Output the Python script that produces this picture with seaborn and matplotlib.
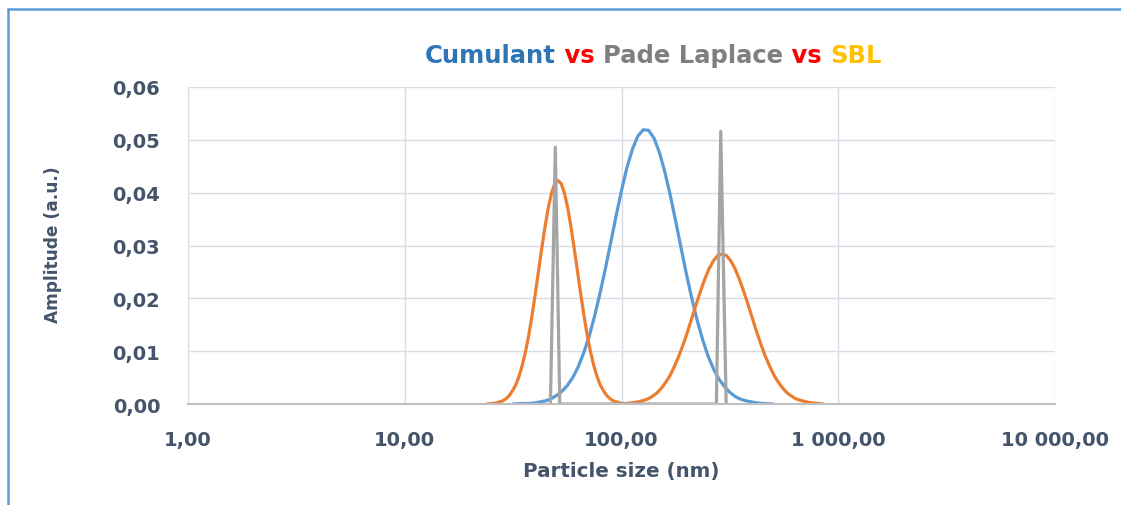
import numpy as np
import pandas as pd
import matplotlib.pyplot as plt
import seaborn as sns
from matplotlib.lines import Line2D
from matplotlib.ticker import FixedLocator, NullLocator

# Values (size in nm, amplitude in a.u.)
cumulant_size = [31.62, 35.48, 37.58, 39.81, 42.17, 44.67, 47.32, 50.12, 53.09, 56.23, 59.57,
                 63.10, 66.83, 70.79, 74.99, 79.43, 84.14, 89.13, 94.41, 100.0, 105.9, 112.2,
                 118.9, 125.9, 133.4, 141.3, 149.6, 158.5, 167.9, 177.8, 188.4, 199.5, 211.3,
                 223.9, 237.1, 251.2, 266.1, 281.8, 298.5, 316.2, 335.0, 354.8, 375.8, 398.1,
                 421.7, 446.7, 501.2]
cumulant_amp = [0.0, 0.0001, 0.0001, 0.0002, 0.0004, 0.0006, 0.0010, 0.0016, 0.0024, 0.0035,
                0.0050, 0.0070, 0.0096, 0.0127, 0.0165, 0.0208, 0.0255, 0.0305, 0.0356, 0.0404,
                0.0447, 0.0482, 0.0507, 0.0519, 0.0518, 0.0503, 0.0476, 0.0439, 0.0395, 0.0346,
                0.0295, 0.0245, 0.0199, 0.0157, 0.0121, 0.0090, 0.0066, 0.0047, 0.0033, 0.0022,
                0.0014, 0.0009, 0.0006, 0.0004, 0.0002, 0.0001, 0.0]

# SBL: small-particle peak
sbl_small_size = [24.0, 25.53, 26.42, 27.35, 28.31, 29.31, 30.34, 31.41, 32.51, 33.65, 34.83,
                  36.06, 37.33, 38.64, 40.00, 41.40, 42.85, 44.36, 45.92, 47.53, 49.20, 50.93,
                  52.72, 54.58, 56.49, 58.48, 60.53, 62.66, 64.86, 67.14, 69.50, 71.94, 74.47,
                  77.09, 79.80, 82.60, 85.51, 88.51, 91.62, 94.84, 98.17, 101.6]
sbl_small_amp = [0.0, 0.0001, 0.0002, 0.0004, 0.0006, 0.0010, 0.0016, 0.0025, 0.0036, 0.0052,
                 0.0073, 0.0099, 0.0130, 0.0167, 0.0208, 0.0251, 0.0294, 0.0335, 0.0371, 0.0399,
                 0.0417, 0.0423, 0.0417, 0.0399, 0.0371, 0.0335, 0.0294, 0.0251, 0.0208, 0.0167,
                 0.0130, 0.0099, 0.0073, 0.0052, 0.0036, 0.0025, 0.0016, 0.0010, 0.0006, 0.0004,
                 0.0002, 0.0001]
# SBL: large-particle peak
sbl_large_size = [105.7, 110.7, 115.9, 121.3, 127.1, 133.0, 139.3, 145.9, 152.8, 160.0, 167.5,
                  175.4, 183.7, 192.3, 201.4, 210.9, 220.8, 231.2, 242.1, 253.5, 265.5, 278.0,
                  291.1, 304.8, 319.2, 334.2, 349.9, 366.4, 383.7, 401.8, 420.7, 440.6, 461.3,
                  483.1, 505.8, 529.7, 554.6, 580.8, 608.1, 636.8, 666.8, 698.2, 731.1, 765.6,
                  801.7, 850.0]
sbl_large_amp = [0.0001, 0.0002, 0.0003, 0.0005, 0.0007, 0.0010, 0.0015, 0.0021, 0.0030, 0.0041,
                 0.0054, 0.0071, 0.0090, 0.0112, 0.0136, 0.0162, 0.0188, 0.0213, 0.0236, 0.0256,
                 0.0271, 0.0281, 0.0284, 0.0281, 0.0271, 0.0256, 0.0236, 0.0213, 0.0188, 0.0162,
                 0.0136, 0.0112, 0.0090, 0.0071, 0.0054, 0.0041, 0.0030, 0.0021, 0.0015, 0.0010,
                 0.0007, 0.0005, 0.0003, 0.0002, 0.0001, 0.0]

pade_size = [47.0, 49.5, 51.9, 274.0, 287.0, 304.0]
pade_amp = [0.0, 0.0486, 0.0, 0.0, 0.0516, 0.0]

x_ticks = [1, 10, 100, 1000, 10000]
x_labels = ['1,00', '10,00', '100,00', '1 000,00', '10 000,00']
y_ticks = [0.0, 0.01, 0.02, 0.03, 0.04, 0.05, 0.06]
y_labels = ['0,00', '0,01', '0,02', '0,03', '0,04', '0,05', '0,06']

sns.set_style('white')
plt.rcParams['font.family'] = ['DejaVu Sans']

text_col = '#44546A'
grid_col = '#D9DCE6'

W, H = 1121, 506
fig = plt.figure(figsize=(W / 100, H / 100), dpi=100)
ax = fig.add_axes([188 / W, 1 - 405 / H, 867 / W, 317 / H])

cum_df = pd.DataFrame({'size': cumulant_size, 'amp': cumulant_amp})
sbl_df = pd.DataFrame({'size': sbl_small_size + sbl_large_size,
                       'amp': sbl_small_amp + sbl_large_amp})
pade_df = pd.DataFrame({'size': pade_size, 'amp': pade_amp})

sns.lineplot(data=cum_df, x='size', y='amp', ax=ax, color='#5B9BD5', lw=2.3, sort=False, zorder=3)
sns.lineplot(data=sbl_df, x='size', y='amp', ax=ax, color='#ED7D31', lw=2.3, sort=False, zorder=4)
sns.lineplot(data=pade_df, x='size', y='amp', ax=ax, color='#A5A5A5', lw=2.3, sort=False, zorder=5)

ax.set_xscale('log')
ax.set_xlim(1, 10000)
ax.set_ylim(0, 0.06)
ax.xaxis.set_major_locator(FixedLocator(x_ticks))
ax.xaxis.set_minor_locator(NullLocator())
ax.set_xticklabels(x_labels)
ax.set_yticks(y_ticks)
ax.set_yticklabels(y_labels)
ax.tick_params(axis='both', length=0, labelsize=14, labelcolor=text_col)
ax.tick_params(axis='x', pad=19)
ax.tick_params(axis='y', pad=20)
for lab in ax.get_xticklabels() + ax.get_yticklabels():
    lab.set_fontweight('bold')

ax.grid(True, color=grid_col, lw=1)
for side in ['top', 'right']:
    ax.spines[side].set_visible(False)
ax.spines['left'].set_color(grid_col)
ax.spines['bottom'].set_color('#BFBFBF')
ax.spines['bottom'].set_linewidth(1.5)
ax.spines['bottom'].set_zorder(6)

renderer = fig.canvas.get_renderer()


def fit_width(t, target):
    # scale the font so the text is about as wide as in the reference
    w = t.get_window_extent(renderer).width
    t.set_fontsize(t.get_fontsize() * target / w)


ax.set_xlabel('Particle size (nm)', fontsize=14, fontweight='bold', color=text_col, va='center')
ax.set_ylabel('Amplitude (a.u.)', fontsize=13, fontweight='bold', color=text_col, va='center')
ax.xaxis.set_label_coords(0.5, -(472 - 405) / 317)
ax.yaxis.set_label_coords((53 - 188) / 867, (405 - 245) / 317)
fit_width(ax.xaxis.label, 197)
ax.yaxis.label.set_fontsize(13)
ylab_h = ax.yaxis.label.get_window_extent(renderer).height
ax.yaxis.label.set_fontsize(13 * 156 / ylab_h)

# multicolour title, pieces laid out left to right
parts = [('Cumulant', '#2E75B6'), (' vs ', '#FF0000'), ('Pade Laplace', '#7F7F7F'),
         (' vs ', '#FF0000'), ('SBL', '#FFC000')]
items = []
for txt, col in parts:
    t = fig.text(0, 1 - 56 / H, txt, color=col, fontsize=16, fontweight='bold', va='center')
    items.append(t)
total = sum(t.get_window_extent(renderer).width for t in items)
for t in items:
    t.set_fontsize(16 * 458 / total)
total = sum(t.get_window_extent(renderer).width for t in items)
x0 = 653 - total / 2
for t in items:
    t.set_x(x0 / W)
    x0 += t.get_window_extent(renderer).width

# blue chart-area border (left and top only visible)
fig.add_artist(Line2D([8 / W, 8 / W], [0, 1 - 10 / H], color='#5B9BD5', lw=1.8))
fig.add_artist(Line2D([8 / W, 1], [1 - 10 / H, 1 - 10 / H], color='#5B9BD5', lw=1.8))

fig.savefig('out.png', dpi=100)
